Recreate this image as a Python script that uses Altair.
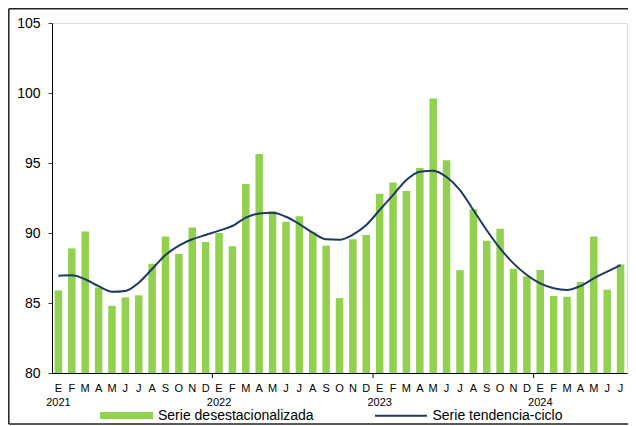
import json
import altair as alt
import pandas as pd

month_letters = ["E", "F", "M", "A", "M", "J", "J", "A", "S", "O", "N", "D"]
years = ["2021", "2022", "2023", "2024"]

desestacionalizada = [
    85.9, 88.9, 90.1, 86.1, 84.8, 85.4, 85.55, 87.8, 89.75, 88.5, 90.4, 89.35,
    90.0, 89.05, 93.5, 95.65, 91.55, 90.8, 91.2, 90.05, 89.1, 85.35, 89.55, 89.85,
    92.8, 93.6, 93.0, 94.65, 99.6, 95.2, 87.35, 91.7, 89.45, 90.3, 87.45, 86.9,
    87.35, 85.5, 85.45, 86.5, 89.75, 85.95, 87.75,
]
tendencia = [
    86.95, 86.98, 86.7, 86.2, 85.8, 85.86, 86.45, 87.43, 88.43, 89.1, 89.55, 89.86,
    90.17, 90.5, 91.1, 91.4, 91.45, 91.16, 90.64, 90.02, 89.55, 89.52, 89.88, 90.57,
    91.64, 92.71, 93.79, 94.38, 94.45, 94.0, 93.07, 91.64, 90.2, 88.9, 87.83, 87.0,
    86.4, 86.05, 85.93, 86.21, 86.76, 87.24, 87.71,
]

n = len(desestacionalizada)
labels = []
for i in range(n):
    m = month_letters[i % 12]
    if i % 12 == 0:
        labels.append([m, years[i // 12]])
    else:
        labels.append(m)

df = pd.DataFrame({"idx": list(range(n)), "des": desestacionalizada, "tend": tendencia})
year_starts = pd.DataFrame({"idx": [12, 24, 36]})
one = pd.DataFrame({"a": [0]})

W, H = 575, 350
FONT = "Liberation Sans"
BAR = "#92D050"
LINE = "#1F3864"

xscale = alt.Scale(domain=list(range(n)), paddingInner=0.44, paddingOuter=0.2)

x_axis = alt.Axis(
    title=None,
    labelExpr=json.dumps(labels) + "[datum.value]",
    labelAngle=0,
    ticks=False,
    domainColor="black",
    labelColor="black",
    labelFont=FONT,
    labelFontSize=11,
    labelLineHeight=14,
    labelPadding=9,
)
y_axis = alt.Axis(
    title=None,
    values=[80, 85, 90, 95, 100, 105],
    grid=False,
    tickSize=4,
    tickColor="#404040",
    domainColor="black",
    labelColor="black",
    labelFont=FONT,
    labelFontSize=14,
    labelPadding=8,
)

base = alt.Chart(df)

bars = base.mark_bar(color=BAR).encode(
    x=alt.X("idx:O", scale=xscale, axis=x_axis),
    y=alt.Y("des:Q", scale=alt.Scale(domain=[80, 105], zero=False, nice=False), axis=y_axis),
    y2=alt.datum(80),
)

line = base.mark_line(color=LINE, strokeWidth=2, interpolate="monotone").encode(
    x=alt.X("idx:O", scale=xscale),
    y=alt.Y("tend:Q"),
)

year_ticks = alt.Chart(year_starts).mark_rule(color="black", strokeWidth=1, xOffset=-2.9).encode(
    x=alt.X("idx:O", scale=xscale, bandPosition=0),
    y=alt.value(H),
    y2=alt.value(H + 5),
)

leg_rect = alt.Chart(one).mark_rect(color=BAR).encode(
    x=alt.value(48), x2=alt.value(101), y=alt.value(389), y2=alt.value(396)
)
leg_text1 = alt.Chart(one).mark_text(
    text="Serie desestacionalizada", align="left", baseline="middle",
    font=FONT, fontSize=14, color="black"
).encode(x=alt.value(106), y=alt.value(392.5))
leg_line = alt.Chart(one).mark_rule(color=LINE, strokeWidth=2).encode(
    x=alt.value(323), x2=alt.value(375), y=alt.value(392.7)
)
leg_text2 = alt.Chart(one).mark_text(
    text="Serie tendencia-ciclo", align="left", baseline="middle",
    font=FONT, fontSize=14, color="black"
).encode(x=alt.value(380.5), y=alt.value(392.5))

frame_left = alt.Chart(one).mark_rule(color="#222222", strokeWidth=1.5).encode(
    x=alt.value(-43.2), y=alt.value(-14.3), y2=alt.value(401)
)
frame_top = alt.Chart(one).mark_rule(color="#222222", strokeWidth=1.5).encode(
    x=alt.value(-43.2), x2=alt.value(W + 1), y=alt.value(-14.3)
)
frame_bottom = alt.Chart(one).mark_rule(color="#222222", strokeWidth=1.5).encode(
    x=alt.value(-43.2), x2=alt.value(W + 1), y=alt.value(401)
)

chart = (
    alt.layer(bars, line, year_ticks, leg_rect, leg_text1, leg_line, leg_text2,
              frame_left, frame_top, frame_bottom)
    .properties(
        width=W,
        height=H,
        autosize=alt.AutoSizeParams(type="none"),
        padding={"left": 44, "top": 15, "right": 1, "bottom": 52},
    )
    .configure_view(stroke="#A6A6A6", strokeWidth=1)
    .configure(background="white")
)

chart.save("out.html", embed_options={"renderer": "svg", "actions": False})
